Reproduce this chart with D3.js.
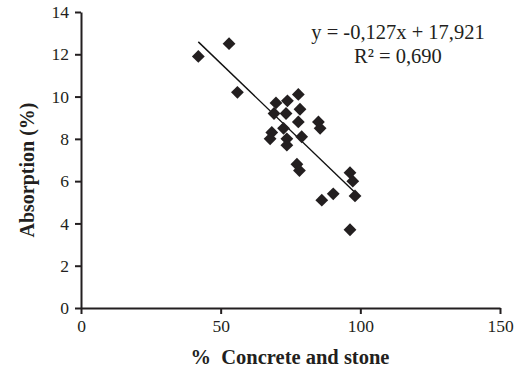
<!DOCTYPE html>
<html>
<head>
<meta charset="utf-8">
<script src="https://cdn.jsdelivr.net/npm/d3@7"></script>
<style>
  body { margin: 0; background: #fff; }
  text { font-family: "Liberation Serif", "Times New Roman", serif; fill: #231f20; }
</style>
</head>
<body>
<div id="chart"></div>
<script>
// concrete and stone share (%) vs absorption (%)
var concrete = [42, 53, 56, 69.8, 73.9, 77.8, 78.4, 69.1, 73.4, 77.8, 72.5, 68.3, 67.7, 73.7, 73.7, 79.0, 85.0, 85.6, 77.3, 78.2, 86.2, 90.3, 96.3, 96.3, 97.3, 98.1];
var absorption = [11.9, 12.5, 10.2, 9.7, 9.8, 10.1, 9.4, 9.2, 9.2, 8.8, 8.5, 8.3, 8.0, 8.0, 7.7, 8.1, 8.8, 8.5, 6.8, 6.5, 5.1, 5.4, 3.7, 6.4, 6.0, 5.3];
var xTicks = [0, 50, 100, 150];
var yTicks = [0, 2, 4, 6, 8, 10, 12, 14];
var slope = -0.127, intercept = 17.921;
var eqLabels = ["y = -0,127x + 17,921", "R² = 0,690"];

var W = 521, H = 374;
var svg = d3.select("#chart").append("svg")
    .attr("width", W).attr("height", H);

var x = d3.scaleLinear().domain([0, 150]).range([81, 500]);
var y = d3.scaleLinear().domain([0, 14]).range([308, 12]);

//axes
var yAxis = svg.append("g")
    .attr("transform", "translate(" + x(0) + ",0)")
    .call(d3.axisLeft(y).tickValues(yTicks).tickSize(6).tickSizeOuter(0).tickPadding(6));
var xAxis = svg.append("g")
    .attr("transform", "translate(0," + y(0) + ")")
    .call(d3.axisBottom(x).tickValues(xTicks).tickSize(6).tickSizeOuter(0).tickPadding(6));
[xAxis, yAxis].forEach(function(a){
  a.attr("font-family", "'Liberation Serif', 'Times New Roman', serif");
  a.select(".domain").attr("stroke", "#231f20").attr("stroke-width", 2);
  a.selectAll(".tick line").attr("stroke", "#231f20").attr("stroke-width", 2);
  a.selectAll(".tick text").attr("font-size", 17.5).attr("fill", "#333");
});

//trend line over data range
var xr = d3.extent(concrete);
svg.append("line")
    .attr("x1", x(xr[0])).attr("y1", y(slope * xr[0] + intercept))
    .attr("x2", x(xr[1])).attr("y2", y(slope * xr[1] + intercept))
    .attr("stroke", "#111").attr("stroke-width", 1.4);

//points
var diamond = d3.symbol().type(d3.symbolSquare).size(82);
svg.selectAll(".pt")
    .data(concrete)
    .enter().append("path")
    .attr("class", "pt")
    .attr("d", diamond)
    .attr("transform", function(d, i){
      return "translate(" + x(d) + "," + y(absorption[i]) + ") rotate(45)";
    })
    .attr("fill", "#231f20");

//equation
svg.selectAll(".eq")
    .data(eqLabels)
    .enter().append("text")
    .attr("class", "eq")
    .attr("x", 398)
    .attr("y", function(d, i){ return 39 + i * 23.5; })
    .attr("text-anchor", "middle")
    .attr("font-size", 20.5)
    .text(function(d){ return d; });

//axis titles
svg.append("text")
    .attr("x", 290).attr("y", 364)
    .attr("text-anchor", "middle")
    .attr("font-size", 20.5).attr("font-weight", "bold")
    .attr("xml:space", "preserve")
    .text("%  Concrete and stone");
svg.append("text")
    .attr("transform", "translate(34,170) rotate(-90)")
    .attr("text-anchor", "middle")
    .attr("font-size", 20).attr("font-weight", "bold")
    .text("Absorption (%)");
</script>
</body>
</html>
